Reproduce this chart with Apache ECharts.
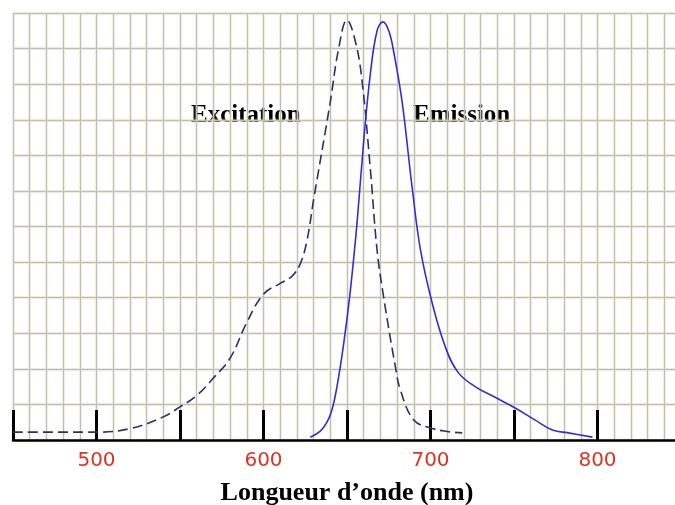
<!DOCTYPE html>
<html>
<head>
<meta charset="utf-8">
<script src="https://cdn.jsdelivr.net/npm/echarts@6/dist/echarts.min.js"></script>
<style>
  html, body { margin: 0; padding: 0; background: #fff; }
  #chart { width: 675px; height: 505px; }
</style>
</head>
<body>
<div id="chart"></div>
<script>
// excitation spectrum (dashed) : [wavelength nm, intensity]
let excitation = [
  [450, 0.22], [500, 0.22], [520, 0.32], [540, 0.65], [550, 0.93], [560, 1.25],
  [570, 1.74], [580, 2.3], [590, 3.3], [600, 4.1], [610, 4.4], [617, 4.6],
  [622, 4.95], [626, 5.6], [630, 6.75], [640, 9.5], [645, 11.0], [650, 11.8],
  [655, 11.2], [659, 10.1], [664, 7.6], [668, 5.34], [672, 4.0], [679, 2.05],
  [682, 1.4], [690, 0.56], [700, 0.34], [710, 0.24], [719, 0.2]
];

// emission spectrum (solid)
let emission = [
  [628, 0.08], [634, 0.25], [638, 0.5], [641, 0.85], [644, 1.5], [648, 2.7],
  [652, 4.2], [656, 6.1], [660, 8.4], [664, 10.3], [668, 11.5], [671.5, 11.75],
  [675, 11.5], [678, 10.9], [683, 9.5], [689, 7.1], [694, 5.34], [701, 3.85],
  [709, 2.6], [716.5, 1.9], [726.7, 1.5], [738.7, 1.2], [750.7, 0.9],
  [762.7, 0.56], [773, 0.28], [782.5, 0.2], [797, 0.08]
];

let gridLine = {
  color: '#bebebe',
  width: 1.3,
  shadowColor: '#f4f0b0',
  shadowBlur: 2
};

var myChart = echarts.init(document.getElementById('chart'));
option = {
  backgroundColor: '#fff',
  animation: false,
  grid: {
    left: 13,
    top: 13,
    width: 668,
    height: 427,
    containLabel: false,
    outerBoundsMode: 'none'
  },
  xAxis: {
    type: 'value',
    min: 450,
    max: 850,
    interval: 50,
    name: 'Longueur d\u2019onde (nm)',
    nameLocation: 'middle',
    nameGap: 40,
    nameTextStyle: {
      fontFamily: 'Liberation Serif',
      fontWeight: 'bold',
      fontSize: 26,
      color: '#000'
    },
    axisLine: { show: true, lineStyle: { color: '#000', width: 2.5 } },
    axisTick: { show: true, inside: true, length: 30, lineStyle: { color: '#000', width: 3 } },
    axisLabel: {
      color: '#e03322',
      fontFamily: 'DejaVu Sans',
      fontSize: 20,
      margin: 11,
      formatter: v => (v % 100 === 0 && v < 850 ? String(v) : '')
    },
    splitLine: { show: true, lineStyle: gridLine },
    minorTick: { show: false, splitNumber: 5 },
    minorSplitLine: { show: true, lineStyle: gridLine }
  },
  yAxis: {
    type: 'value',
    min: 0,
    max: 12,
    interval: 1,
    axisLine: { show: false },
    axisTick: { show: false },
    axisLabel: { show: false },
    splitLine: { show: true, lineStyle: gridLine }
  },
  series: [
    {
      name: 'Excitation',
      type: 'line',
      data: excitation,
      smooth: 0.4,
      showSymbol: false,
      lineStyle: { color: '#2e2e6e', width: 1.6, type: [10, 5] },
      z: 3
    },
    {
      name: 'Emission',
      type: 'line',
      data: emission,
      smooth: 0.4,
      showSymbol: false,
      lineStyle: { color: '#2f2fd8', width: 1.6 },
      z: 4
    }
  ],
  graphic: [
    {
      type: 'text', x: 191, y: 116,
      style: { text: 'Excitation', font: 'bold 25px "Liberation Serif"', fill: '#000', verticalAlign: 'middle' }
    },
    {
      type: 'text', x: 413, y: 116,
      style: { text: 'Emission', font: 'bold 25px "Liberation Serif"', fill: '#000', verticalAlign: 'middle' }
    }
  ]
};
myChart.setOption(option);
</script>
</body>
</html>
